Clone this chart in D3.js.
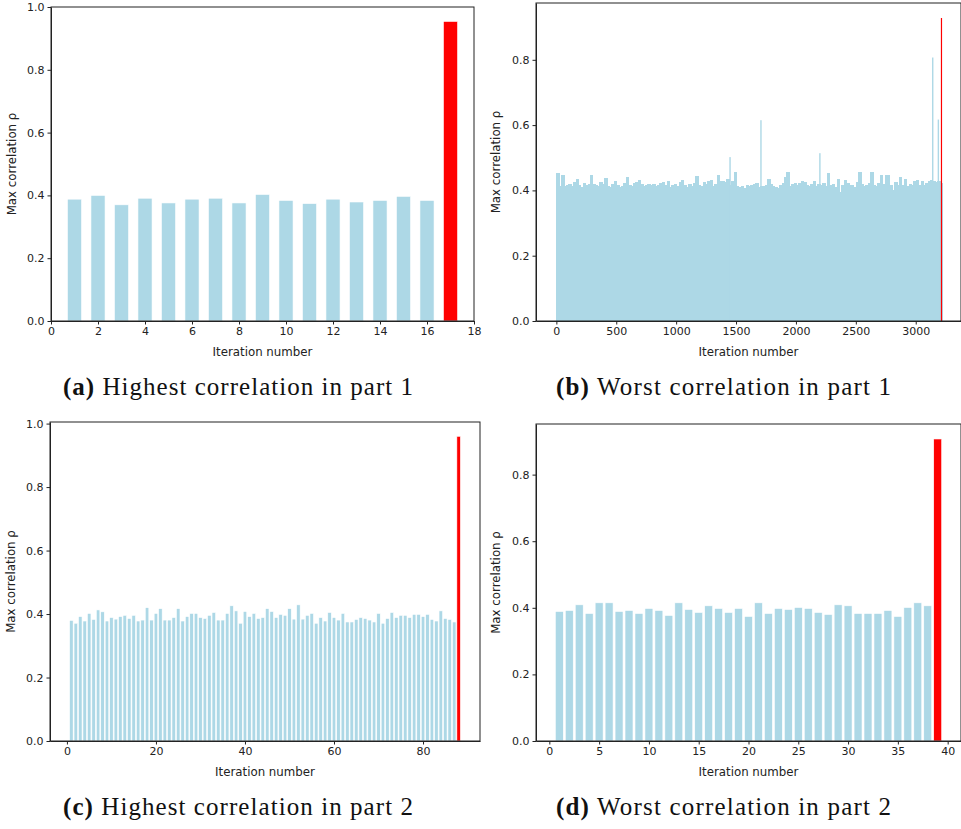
<!DOCTYPE html>
<html>
<head>
<meta charset="utf-8">
<script src="https://cdn.jsdelivr.net/npm/d3@7"></script>
<style>
  body { margin: 0; background: #fff; }
  .tick text { font-family: "DejaVu Sans", sans-serif; font-size: 11px; fill: #222; }
  .tick line, .domain { stroke: #222; }
  .lab { font-family: "DejaVu Sans", sans-serif; font-size: 11.8px; fill: #222; }
  .cap { font-family: "Liberation Serif", serif; font-size: 25px; fill: #111; }
</style>
</head>
<body>
<script>
// (a) highest correlation in part 1, iterations 1..17 (last one red)
var valsA = [0.388, 0.400, 0.370, 0.391, 0.376, 0.388, 0.391, 0.376, 0.403,
             0.384, 0.374, 0.388, 0.379, 0.384, 0.397, 0.384, 0.954];

// (b) worst correlation in part 1: ~3200 iterations, read in blocks of 20
var binB = 20;
var valsB = [
  0.452, 0.412, 0.447, 0.415, 0.418, 0.421, 0.414, 0.425, 0.436, 0.418,
  0.410, 0.422, 0.418, 0.420, 0.448, 0.421, 0.416, 0.412, 0.426, 0.420,
  0.438, 0.414, 0.409, 0.420, 0.428, 0.418, 0.410, 0.415, 0.422, 0.440,
  0.418, 0.413, 0.422, 0.426, 0.432, 0.419, 0.412, 0.418, 0.421, 0.416,
  0.420, 0.414, 0.418, 0.422, 0.425, 0.417, 0.430, 0.410, 0.418, 0.421,
  0.414, 0.426, 0.432, 0.418, 0.410, 0.420, 0.415, 0.422, 0.443, 0.418,
  0.412, 0.425, 0.419, 0.428, 0.432, 0.415, 0.420, 0.446, 0.430, 0.428,
  0.425, 0.436, 0.418, 0.430, 0.457, 0.412, 0.410, 0.415, 0.408, 0.418,
  0.412, 0.416, 0.420, 0.424, 0.410, 0.415, 0.412, 0.418, 0.435, 0.420,
  0.414, 0.410, 0.408, 0.418, 0.422, 0.440, 0.457, 0.415, 0.420, 0.424,
  0.418, 0.422, 0.430, 0.426, 0.418, 0.412, 0.420, 0.430, 0.415, 0.420,
  0.418, 0.424, 0.412, 0.454, 0.416, 0.420, 0.410, 0.435, 0.395, 0.418,
  0.432, 0.422, 0.416, 0.418, 0.410, 0.425, 0.457, 0.420, 0.414, 0.418,
  0.424, 0.457, 0.418, 0.415, 0.422, 0.448, 0.420, 0.447, 0.446, 0.418,
  0.402, 0.425, 0.418, 0.440, 0.416, 0.435, 0.412, 0.420, 0.418, 0.428,
  0.432, 0.416, 0.430, 0.418, 0.424, 0.428, 0.432, 0.430, 0.426, 0.428,
  0.422
];
var spikeIterB = [1450, 1708, 2200, 3142, 3189];
var spikeValB = [0.502, 0.615, 0.514, 0.807, 0.617];
var redIterB = 3215, redValB = 0.928;

// (c) highest correlation in part 2, iterations 1..88 (last one red)
var valsC = [0.380, 0.371, 0.392, 0.378, 0.402, 0.383, 0.413, 0.407, 0.378, 0.389,
             0.384, 0.392, 0.396, 0.386, 0.396, 0.378, 0.381, 0.420, 0.381, 0.402,
             0.417, 0.381, 0.381, 0.389, 0.417, 0.378, 0.392, 0.402, 0.402, 0.389,
             0.386, 0.396, 0.405, 0.381, 0.381, 0.402, 0.426, 0.410, 0.371, 0.408,
             0.392, 0.402, 0.386, 0.389, 0.417, 0.408, 0.389, 0.399, 0.396, 0.417,
             0.384, 0.429, 0.384, 0.396, 0.402, 0.371, 0.389, 0.378, 0.405, 0.389,
             0.381, 0.402, 0.375, 0.375, 0.383, 0.389, 0.386, 0.381, 0.375, 0.402,
             0.371, 0.386, 0.405, 0.389, 0.396, 0.396, 0.389, 0.399, 0.399, 0.392,
             0.399, 0.383, 0.378, 0.410, 0.386, 0.383, 0.375, 0.960];

// (d) worst correlation in part 2, iterations 1..39 (last one red)
var valsD = [0.389, 0.392, 0.409, 0.383, 0.415, 0.415, 0.389, 0.392, 0.383, 0.398,
             0.392, 0.377, 0.415, 0.395, 0.386, 0.406, 0.398, 0.386, 0.398, 0.374,
             0.415, 0.383, 0.398, 0.395, 0.401, 0.398, 0.386, 0.380, 0.409, 0.406,
             0.383, 0.383, 0.383, 0.392, 0.374, 0.401, 0.415, 0.406, 0.907];

var ticksA = [0, 2, 4, 6, 8, 10, 12, 14, 16, 18];
var ticksB = [0, 500, 1000, 1500, 2000, 2500, 3000];
var ticksC = [0, 20, 40, 60, 80];
var ticksD = [0, 5, 10, 15, 20, 25, 30, 35, 40];
var yTicks1 = [0, 0.2, 0.4, 0.6, 0.8, 1.0];
var yTicks2 = [0, 0.2, 0.4, 0.6, 0.8];

var captions = [
  ["(a)", "Highest correlation in part 1"],
  ["(b)", "Worst correlation in part 1"],
  ["(c)", "Highest correlation in part 2"],
  ["(d)", "Worst correlation in part 2"]
];

var blue = "#add8e6", red = "#ff0000";

var svg = d3.select("body").append("svg").attr("width", 961).attr("height", 829);

function panel(o) {
  var x = d3.scaleLinear().domain(o.xd).range([o.l, o.r]);
  var y = d3.scaleLinear().domain(o.yd).range([o.b, o.t]);
  var g = svg.append("g");

  var clipId = "clip" + o.id;
  svg.append("clipPath").attr("id", clipId).append("rect")
      .attr("x", o.l).attr("y", o.t).attr("width", o.r - o.l).attr("height", o.b - o.t);
  var plot = g.append("g").attr("clip-path", "url(#" + clipId + ")");

  plot.selectAll("rect.bar")
      .data(o.vals)
      .enter().append("rect")
      .attr("class", "bar")
      .attr("x", function (d, i) { return x(i + 1 - o.w / 2); })
      .attr("width", function () { return x(o.w) - x(0); })
      .attr("y", function (d) { return y(d); })
      .attr("height", function (d) { return y(0) - y(d); })
      .attr("fill", function (d, i) { return i == o.vals.length - 1 ? red : blue; })
      .attr("stroke", "#fff")
      .attr("stroke-width", 0.6);

  g.append("g")
      .attr("transform", "translate(0," + o.b + ")")
      .call(d3.axisBottom(x).tickValues(o.xt).tickSize(3.5).tickPadding(3).tickSizeOuter(0)
            .tickFormat(d3.format("d")));
  g.append("g")
      .attr("transform", "translate(" + o.l + ",0)")
      .call(d3.axisLeft(y).tickValues(o.yt).tickSize(3.5).tickPadding(3).tickSizeOuter(0)
            .tickFormat(d3.format(".1f")));
  g.append("rect")
      .attr("x", o.l).attr("y", o.t).attr("width", o.r - o.l).attr("height", o.b - o.t)
      .attr("fill", "none").attr("stroke", "#222").attr("stroke-width", 1);

  g.append("text").attr("class", "lab")
      .attr("x", (o.l + o.r) / 2).attr("y", o.b + 35)
      .attr("text-anchor", "middle").text("Iteration number");
  g.append("text").attr("class", "lab")
      .attr("transform", "translate(" + o.ylx + "," + (o.t + o.b) / 2 + ") rotate(-90)")
      .attr("text-anchor", "middle").text("Max correlation \u03c1");
  return { x: x, y: y, plot: plot };
}

// (a)
panel({ id: "a", vals: valsA, w: 0.6, xd: [0, 18], yd: [0, 1.0], l: 51, r: 474, t: 7, b: 321,
        xt: ticksA, yt: yTicks1, ylx: 16 });

// (b): blocks of the long run, then the few spikes and the red last one
var pb = panel({ id: "b", vals: [], w: 0.8, xd: [-170, 3378], yd: [0, 0.974], l: 536, r: 961, t: 3, b: 321,
                 xt: ticksB, yt: yTicks2, ylx: 500 });
pb.plot.insert("g", ":first-child")
    .attr("shape-rendering", "crispEdges")
    .selectAll("rect")
    .data(valsB)
    .enter().append("rect")
    .attr("x", function (d, i) { return pb.x(i * binB); })
    .attr("width", function () { return pb.x(binB) - pb.x(0) + 1; })
    .attr("y", function (d) { return pb.y(d); })
    .attr("height", function (d) { return pb.y(0) - pb.y(d); })
    .attr("fill", blue);
pb.plot.selectAll("rect.spk")
    .data(spikeValB)
    .enter().append("rect")
    .attr("class", "spk")
    .attr("x", function (d, i) { return pb.x(spikeIterB[i]) - 0.7; })
    .attr("width", 1.4)
    .attr("y", function (d) { return pb.y(d); })
    .attr("height", function (d) { return pb.y(0) - pb.y(d); })
    .attr("fill", blue);
pb.plot.append("rect")
    .attr("x", pb.x(redIterB) - 0.6)
    .attr("width", 1.2)
    .attr("y", pb.y(redValB))
    .attr("height", pb.y(0) - pb.y(redValB))
    .attr("fill", red);

// (c)
panel({ id: "c", vals: valsC, w: 0.8, xd: [-3.8, 92.8], yd: [0, 1.005], l: 50, r: 480, t: 422, b: 741,
        xt: ticksC, yt: yTicks1, ylx: 15 });

// (d)
panel({ id: "d", vals: valsD, w: 0.8, xd: [-1.34, 41.34], yd: [0, 0.952], l: 536, r: 961, t: 424, b: 741,
        xt: ticksD, yt: yTicks2, ylx: 500 });

// sub-captions
var capPos = [[63, 395], [556, 395], [63, 815], [556, 815]];
var capLen = [350, 335, 350, 335];
captions.forEach(function (c, i) {
  var t = svg.append("text").attr("class", "cap")
      .attr("x", capPos[i][0]).attr("y", capPos[i][1])
      .attr("textLength", capLen[i]).attr("lengthAdjust", "spacing");
  t.append("tspan").attr("font-weight", "bold").text(c[0]);
  t.append("tspan").text(" " + c[1]);
});
</script>
</body>
</html>
